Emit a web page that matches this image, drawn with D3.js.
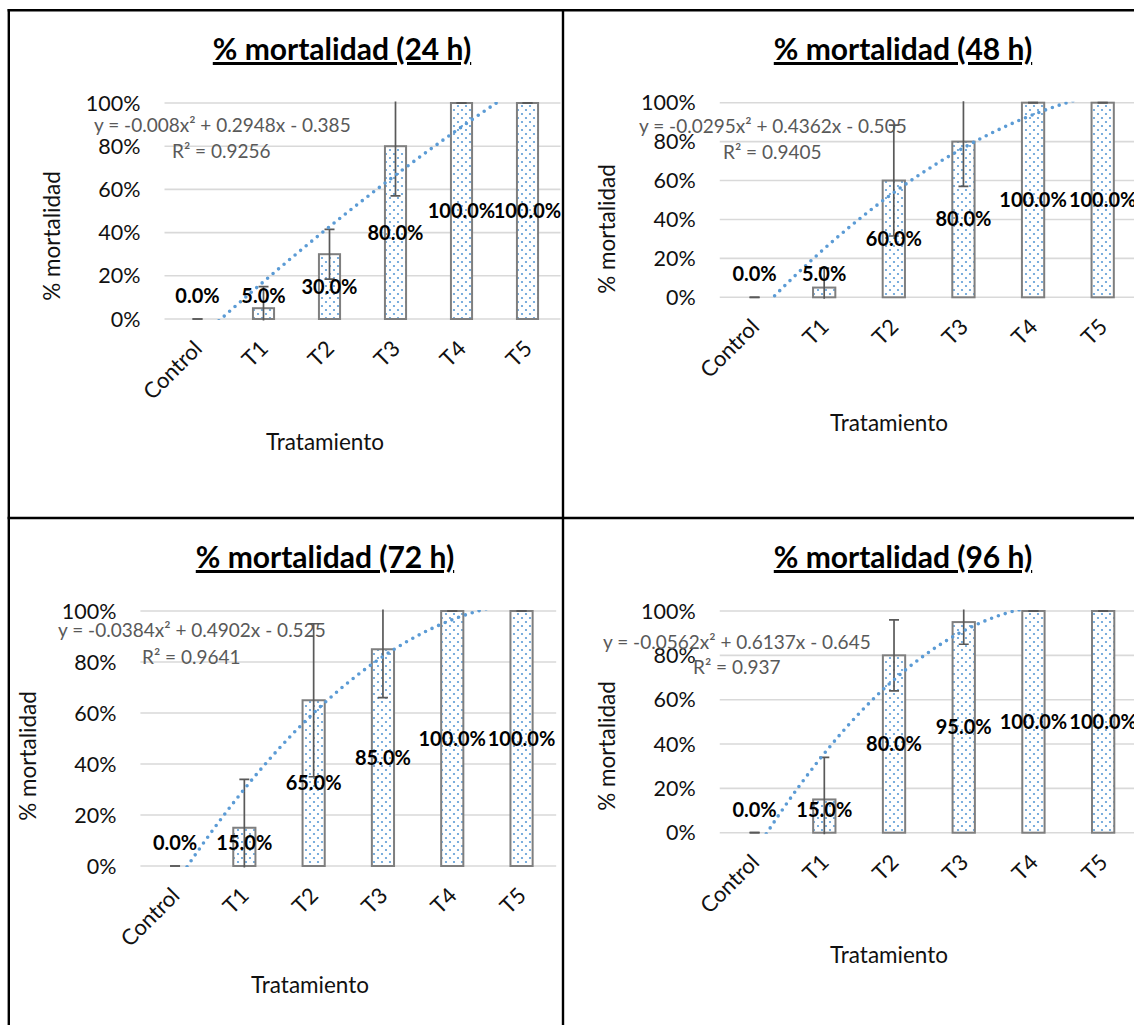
<!DOCTYPE html>
<html><head><meta charset="utf-8">
<script src="https://cdn.jsdelivr.net/npm/d3@7"></script>
<style>
html,body{margin:0;padding:0;background:#fff;}
svg{display:block;}
text{font-family:Lato,'Open Sans',sans-serif;}
</style></head><body>
<svg id="chart" width="1134" height="1025"></svg>
<script>
// ---------- data ----------
const categories = ["Control","T1","T2","T3","T4","T5"];
const yTicks = [0, 20, 40, 60, 80, 100];

const titles = ["% mortalidad (24 h)", "% mortalidad (48 h)", "% mortalidad (72 h)", "% mortalidad (96 h)"];

const mort24 = [0, 5, 30, 80, 100, 100];
const mort48 = [0, 5, 60, 80, 100, 100];
const mort72 = [0, 15, 65, 85, 100, 100];
const mort96 = [0, 15, 80, 95, 100, 100];

const err24 = [0, 10, 11.5, 23, 0, 0];
const err48 = [0, 10, 28.5, 23, 0, 0];
const err72 = [0, 19, 30, 19, 0, 0];
const err96 = [0, 19, 16, 10, 0, 0];

// polynomial trendline coefficients [a, b, c] : y = a x^2 + b x + c
const trend24 = [-0.008, 0.2948, -0.385];
const trend48 = [-0.0295, 0.4362, -0.505];
const trend72 = [-0.0384, 0.4902, -0.525];
const trend96 = [-0.0562, 0.6137, -0.645];
const r2Values = ["0.9256", "0.9405", "0.9641", "0.937"];

const xTitle = "Tratamiento";
const yTitle = "% mortalidad";

// ---------- layout ----------
const layouts = [
  {x0:164.5, x1:560.5, yTop:103, yBot:319, titleX:342, titleY:60, yTX:52, yTY:236, xTX:325, xTY:442, eqX:94, eqY:125, r2X:172, r2Y:151},
  {x0:719.75, x1:1137.5, yTop:102.7, yBot:297.3, titleX:903, titleY:60, yTX:607, yTY:229, xTX:889, xTY:423, eqX:639, eqY:126, r2X:723, r2Y:152},
  {x0:140.4, x1:556.2, yTop:611, yBot:866, titleX:325, titleY:568, yTX:28, yTY:756, xTX:310, xTY:985, eqX:58, eqY:630, r2X:142, r2Y:657},
  {x0:719.75, x1:1138, yTop:611, yBot:832.7, titleX:903, titleY:568, yTX:607, yTY:746, xTX:889, xTY:955, eqX:603, eqY:642, r2X:693, r2Y:667}
];

const panels = [
  {title:titles[0], values:mort24, errors:err24, trend:trend24, r2:r2Values[0], L:layouts[0]},
  {title:titles[1], values:mort48, errors:err48, trend:trend48, r2:r2Values[1], L:layouts[1]},
  {title:titles[2], values:mort72, errors:err72, trend:trend72, r2:r2Values[2], L:layouts[2]},
  {title:titles[3], values:mort96, errors:err96, trend:trend96, r2:r2Values[3], L:layouts[3]}
];

const svg = d3.select("#chart");
const defs = svg.append("defs");

const pat = defs.append("pattern").attr("id","dots").attr("patternUnits","userSpaceOnUse")
  .attr("width",8).attr("height",8);
pat.append("rect").attr("width",8).attr("height",8).attr("fill","#fff");
pat.append("circle").attr("cx",2).attr("cy",2).attr("r",1.1).attr("fill","#5B9BD5");
pat.append("circle").attr("cx",6).attr("cy",6).attr("r",1.1).attr("fill","#5B9BD5");

// table lines
const tbl = svg.append("g").attr("stroke","#000").attr("stroke-width",2.4);
tbl.append("line").attr("x1",8.8).attr("x2",8.8).attr("y1",9).attr("y2",1025);
tbl.append("line").attr("x1",563).attr("x2",563).attr("y1",9).attr("y2",1025);
tbl.append("line").attr("x1",7.6).attr("x2",1134).attr("y1",10.3).attr("y2",10.3);
tbl.append("line").attr("x1",7.6).attr("x2",1134).attr("y1",518).attr("y2",518);

const fmtPct = d => d3.format(".1f")(d) + "%";

panels.forEach((p, pi) => {
  const L = p.L;
  const g = svg.append("g");
  const x = d3.scaleBand().domain(categories).range([L.x0, L.x1]).paddingInner(0.68).paddingOuter(0.34);
  const y = d3.scaleLinear().domain([0, 100]).range([L.yBot, L.yTop]);
  const cx = c => x(c) + x.bandwidth() / 2;
  const xNum = d3.scaleLinear().domain([1, categories.length]).range([cx(categories[0]), cx(categories[categories.length-1])]);

  const clipId = "clip" + pi, clipId2 = "clipe" + pi;
  defs.append("clipPath").attr("id", clipId).append("rect")
    .attr("x", L.x0).attr("y", L.yTop - 1).attr("width", L.x1 - L.x0).attr("height", L.yBot - L.yTop + 2);
  defs.append("clipPath").attr("id", clipId2).append("rect")
    .attr("x", L.x0).attr("y", L.yTop - 1.5).attr("width", L.x1 - L.x0).attr("height", L.yBot - L.yTop + 3);

  // title
  g.append("text").attr("x", L.titleX).attr("y", L.titleY).attr("text-anchor","middle")
    .attr("font-size", 30).attr("font-weight", "bold").attr("fill","#000")
    .style("text-decoration","underline").text(p.title);

  // gridlines
  g.append("g").selectAll("line").data(yTicks).join("line")
    .attr("x1", L.x0).attr("x2", L.x1).attr("y1", d => y(d)).attr("y2", d => y(d))
    .attr("stroke", "#d9d9d9").attr("stroke-width", 1.6);

  // y tick labels
  g.append("g").selectAll("text").data(yTicks).join("text")
    .attr("x", L.x0 - 24).attr("y", d => y(d)).attr("dy","0.35em").attr("text-anchor","end")
    .attr("font-size", 21.5).attr("fill","#111").text(d => d + "%");

  // x tick labels
  g.append("g").selectAll("text").data(categories).join("text")
    .attr("text-anchor","end").attr("font-size", 22).attr("fill","#111")
    .attr("transform", d => `translate(${cx(d) + 6},${L.yBot + 31}) rotate(-45)`)
    .text(d => d);

  // axis titles
  g.append("text").attr("transform", `translate(${L.yTX},${L.yTY}) rotate(-90)`)
    .attr("text-anchor","middle").attr("dy","0.35em").attr("font-size",22.5).attr("fill","#111").text(yTitle);
  g.append("text").attr("x", L.xTX).attr("y", L.xTY).attr("dy","0.35em")
    .attr("text-anchor","middle").attr("font-size",22.5).attr("fill","#111").text(xTitle);

  const rows = categories.map((c, i) => ({c, v: p.values[i], e: p.errors[i]}));

  // bars
  g.append("g").selectAll("rect").data(rows.filter(d => d.v > 0)).join("rect")
    .attr("x", d => x(d.c)).attr("width", x.bandwidth())
    .attr("y", d => y(d.v)).attr("height", d => y(0) - y(d.v))
    .attr("fill", "url(#dots)").attr("stroke", "#7f7f7f").attr("stroke-width", 2);

  // error bars
  const eg = g.append("g").attr("clip-path", `url(#${clipId2})`).attr("stroke","#595959").attr("stroke-width",1.7);
  const cap = 5;
  rows.forEach(d => {
    const xc = cx(d.c), yl = y(d.v - d.e), yh = y(d.v + d.e);
    eg.append("line").attr("x1", xc).attr("x2", xc).attr("y1", yl).attr("y2", yh);
    eg.append("line").attr("x1", xc - cap).attr("x2", xc + cap).attr("y1", yl).attr("y2", yl);
    eg.append("line").attr("x1", xc - cap).attr("x2", xc + cap).attr("y1", yh).attr("y2", yh);
  });

  // trendline (polynomial order 2 from displayed coefficients)
  const [a, b, c0] = p.trend;
  const pts = d3.range(1, categories.length + 0.0001, 0.02).map(t => [t, (a*t*t + b*t + c0) * 100]);
  const line = d3.line().x(d => xNum(d[0])).y(d => y(d[1]));
  g.append("path").attr("clip-path", `url(#${clipId})`).attr("d", line(pts))
    .attr("fill","none").attr("stroke","#5B9BD5").attr("stroke-width",3.6)
    .attr("stroke-linecap","round").attr("stroke-dasharray","0 7.2");

  // equation + R²
  const fmtC = v => String(Math.abs(v));
  const eq = `y = ${a < 0 ? "-" : ""}${fmtC(a)}x² ${b < 0 ? "-" : "+"} ${fmtC(b)}x ${c0 < 0 ? "-" : "+"} ${fmtC(c0)}`;
  g.append("text").attr("x", L.eqX).attr("y", L.eqY).attr("dy","0.35em")
    .attr("font-size", 19).attr("fill", "#595959").text(eq);
  g.append("text").attr("x", L.r2X).attr("y", L.r2Y).attr("dy","0.35em")
    .attr("font-size", 19).attr("fill", "#595959").text(`R² = ${p.r2}`);

  // data labels
  g.append("g").selectAll("text").data(rows).join("text")
    .attr("x", d => cx(d.c))
    .attr("y", d => Math.min((y(0) + y(d.v)) / 2, y(0) - 23))
    .attr("dy","0.35em").attr("text-anchor","middle")
    .attr("font-size", 20).attr("font-weight","bold").attr("fill","#000")
    .text(d => fmtPct(d.v));
});
</script>
</body></html>
